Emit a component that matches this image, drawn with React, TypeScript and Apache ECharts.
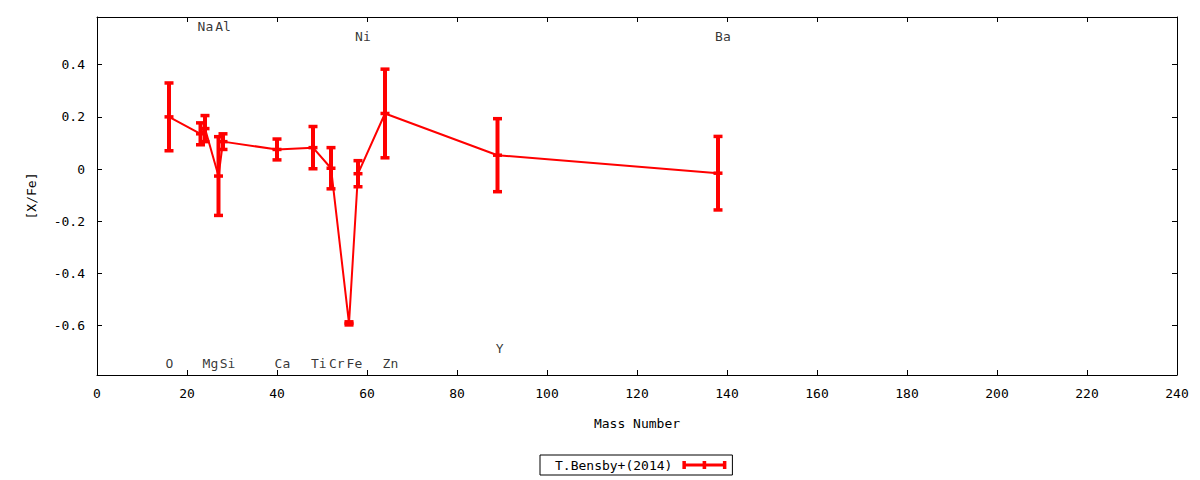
import React, { useEffect, useRef } from "react";
import * as echarts from "echarts";

// Abundance data (T.Bensby+ 2014)
const elements = ["O", "Na", "Mg", "Al", "Si", "Ca", "Ti", "Cr", "Fe", "Ni", "Zn", "Y", "Ba"];
const massNumbers = [16, 23, 24, 27, 28, 40, 48, 52, 56, 58, 64, 89, 138];
const abundances = [0.2, 0.135, 0.155, -0.027, 0.105, 0.075, 0.082, 0.003, -0.592, -0.018, 0.213, 0.053, -0.016];
const errors = [0.13, 0.042, 0.05, 0.151, 0.03, 0.04, 0.081, 0.079, 0.006, 0.05, 0.17, 0.14, 0.141];

// Element name labels (data coordinates)
const labelNames = ["Na", "Al", "Ni", "Ba", "O", "Mg", "Si", "Ca", "Ti", "Cr", "Fe", "Zn", "Y"];
const labelX = [24.1, 28.0, 59.1, 139.1, 16.1, 25.2, 29.0, 41.2, 49.3, 53.3, 57.2, 65.2, 89.5];
const labelY = [0.545, 0.545, 0.507, 0.507, -0.745, -0.745, -0.745, -0.745, -0.745, -0.745, -0.745, -0.745, -0.69];

const yTicks = [-0.6, -0.4, -0.2, 0, 0.2, 0.4];
const seriesName = "T.Bensby+(2014)";

const FONT = "DejaVu Sans Mono";
const RED = "#ff0000";

export default function App() {
  const ref = useRef<HTMLDivElement>(null);

  useEffect(() => {
    document.body.style.margin = "0";
    if (!ref.current) return;
    const chart = echarts.init(ref.current, undefined, { renderer: "svg" });

    const points = massNumbers.map((m, i) => [m, abundances[i]]);
    const bars = massNumbers.map((m, i) => [m, abundances[i] - errors[i], abundances[i] + errors[i]]);
    const labels = labelNames.map((n, i) => [labelX[i], labelY[i], n]);

    const textStyle = { fontFamily: FONT, fontSize: 13, color: "#000" };
    const axisLine = { show: true, onZero: false, lineStyle: { color: "#000", width: 1 } };
    const tick = { show: true, inside: true, length: 5, lineStyle: { color: "#000", width: 1 } };

    chart.setOption({
      animation: false,
      backgroundColor: "#fff",
      grid: { left: 97, right: 23, top: 17, bottom: 105, containLabel: false },
      legend: {
        data: [seriesName],
        left: 540,
        top: 455,
        orient: "horizontal",
        align: "right",
        borderColor: "#000",
        borderWidth: 1,
        borderRadius: 0,
        padding: [3, 6, 3, 15],
        itemWidth: 44,
        itemHeight: 8,
        icon: "path://M0 2.5H44V5.5H0Z M0 0H3.5V8H0Z M20.2 0H23.8V8H20.2Z M40.5 0H44V8H40.5Z",
        textStyle: { ...textStyle, lineHeight: 14, padding: [0, 5, 0, 0] },
      },
      xAxis: [
        {
          type: "value",
          min: 0,
          max: 240,
          interval: 20,
          position: "bottom",
          name: "Mass Number",
          nameLocation: "middle",
          nameGap: 42,
          nameTextStyle: textStyle,
          axisLine,
          axisTick: tick,
          axisLabel: { ...textStyle, margin: 12 },
          splitLine: { show: false },
        },
        {
          type: "value",
          min: 0,
          max: 240,
          interval: 20,
          position: "top",
          axisLine,
          axisTick: tick,
          axisLabel: { show: false },
          splitLine: { show: false },
        },
      ],
      yAxis: [
        {
          type: "value",
          min: -0.79,
          max: 0.583,
          position: "left",
          name: "[X/Fe]",
          nameLocation: "middle",
          nameRotate: 90,
          nameGap: 59,
          nameTextStyle: textStyle,
          axisLine,
          axisTick: { ...tick, customValues: yTicks },
          axisLabel: { ...textStyle, margin: 12, customValues: yTicks, formatter: (v: number) => String(v) },
          splitLine: { show: false },
        },
        {
          type: "value",
          min: -0.79,
          max: 0.583,
          position: "right",
          axisLine,
          axisTick: { ...tick, customValues: yTicks },
          axisLabel: { show: false, customValues: yTicks },
          splitLine: { show: false },
        },
      ],
      series: [
        {
          name: seriesName,
          type: "line",
          data: points,
          symbol: "rect",
          symbolSize: [9, 3.5],
          itemStyle: { color: RED },
          lineStyle: { color: RED, width: 2 },
          z: 3,
        },
        {
          name: seriesName,
          type: "custom",
          data: bars,
          encode: { x: 0, y: [1, 2] },
          z: 4,
          renderItem: (params: any, api: any) => {
            const x = api.value(0);
            const lo = api.coord([x, api.value(1)]);
            const hi = api.coord([x, api.value(2)]);
            const hw = 4.5;
            const style = { stroke: RED, lineWidth: 4 };
            const capStyle = { stroke: RED, lineWidth: 3.5 };
            return {
              type: "group",
              children: [
                { type: "line", shape: { x1: lo[0], y1: lo[1], x2: hi[0], y2: hi[1] }, style },
                { type: "line", shape: { x1: lo[0] - hw, y1: lo[1], x2: lo[0] + hw, y2: lo[1] }, style: capStyle },
                { type: "line", shape: { x1: hi[0] - hw, y1: hi[1], x2: hi[0] + hw, y2: hi[1] }, style: capStyle },
              ],
            };
          },
        },
        {
          name: "labels",
          type: "scatter",
          data: labels,
          symbolSize: 1,
          itemStyle: { color: "rgba(0,0,0,0)" },
          silent: true,
          label: {
            show: true,
            position: "inside",
            formatter: (p: any) => p.data[2],
            ...textStyle,
          },
          z: 5,
        },
      ],
    });

    return () => {
      chart.dispose();
    };
  }, []);

  return <div ref={ref} style={{ width: 1200, height: 480 }} />;
}
